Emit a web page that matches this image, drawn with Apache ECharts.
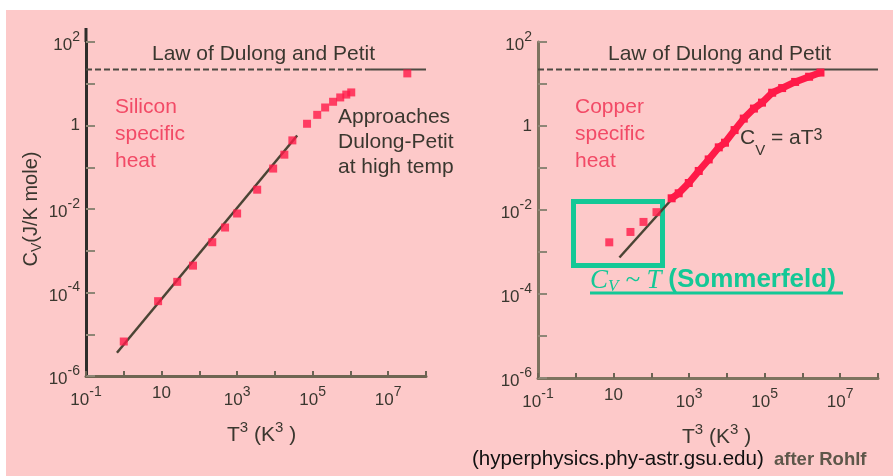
<!DOCTYPE html>
<html>
<head>
<meta charset="utf-8">
<script src="https://cdn.jsdelivr.net/npm/echarts@6/dist/echarts.min.js"></script>
<style>
  html, body { margin: 0; padding: 0; background: #fff; }
  #chart {
    width: 893px; height: 476px;
    background: #fdc9c9;
    box-shadow: inset 6px 10px 0 0 #fff;
  }
</style>
</head>
<body>
<div id="chart"></div>
<script>
// tick labels (exponents of 10 that get a label)
var xTickExps = [-1, 1, 3, 5, 7];
var yTickExps = [2, 0, -2, -4, -6];

// Law of Dulong and Petit, 3R in J/K mole
var dulongCv = 22;
var dulongDashEnd = [3.3e6, 5.4e5];   // where the dashed part turns solid (left, right)

// silicon measurements: T^3 (K^3) and Cv (J/K mole)
var siliconT3 = [1.0, 8.1, 26, 68, 220, 480, 1000, 3400, 9000, 17800, 29000, 71000, 132000, 214000, 347000, 537000, 776000, 1.05e6, 3.2e7];
var siliconCv = [6.7e-6, 6.2e-5, 1.8e-4, 4.4e-4, 1.6e-3, 3.6e-3, 7.8e-3, 0.029, 0.093, 0.20, 0.44, 1.1, 1.8, 2.7, 3.7, 4.7, 5.5, 6.2, 17.7];
// silicon aT^3 fit (end points)
var siliconFitT3 = [0.66, 38900];
var siliconFitCv = [3.6e-6, 0.575];

// copper: isolated low-temperature points
var copperLowT3 = [7.7, 28, 62, 137];
var copperLowCv = [1.7e-3, 3.0e-3, 5.2e-3, 8.9e-3];
// copper: dense band of points
var copperT3 = [345, 530, 980, 1800, 3300, 6100, 8900, 16000, 28000, 52000, 85000, 158000, 290000, 640000, 1.5e6, 3.0e6];
var copperCv = [0.019, 0.025, 0.044, 0.085, 0.16, 0.31, 0.40, 0.80, 1.5, 2.6, 3.6, 6.2, 8.0, 11.2, 14.9, 18.7];
// copper aT^3 fit (end points)
var copperFitT3 = [14.3, 34000];
var copperFitCv = [7.4e-4, 1.78];

var FONT = 'Liberation Sans, Arial, sans-serif';
var RED = '#ff1a48';
var TEAL = '#14c896';
var INK = '#3a372f';

function zip(a, b) { return a.map(function (v, i) { return [v, b[i]]; }); }

function powLabel(e) {
    if (e === 0) return '1';
    if (e === 1) return '10';
    return '{b|10}{s|' + e + '}';
}

var tickRich = {
    b: { fontSize: 17, lineHeight: 24, verticalAlign: 'bottom', color: INK, fontFamily: FONT },
    s: { fontSize: 14, lineHeight: 14, verticalAlign: 'top', color: INK, fontFamily: FONT }
};

function makeX(idx, color) {
    return {
        type: 'log', logBase: 10, gridIndex: idx,
        min: 0.1, max: 1e8, interval: 1,
        axisLine: { lineStyle: { color: color, width: 3 } },
        axisTick: { inside: true, length: 5, lineStyle: { color: '#6c6454', width: 2 } },
        splitLine: { show: false },
        axisLabel: {
            margin: 9, color: INK, fontSize: 17, fontFamily: FONT, rich: tickRich,
            formatter: function (v) {
                var e = Math.round(Math.log10(v));
                return xTickExps.indexOf(e) >= 0 ? powLabel(e) : '';
            }
        }
    };
}

function makeY(idx, color, name) {
    return {
        type: 'log', logBase: 10, gridIndex: idx,
        min: 1e-6, max: 100, interval: 1,
        name: name || '',
        nameLocation: 'middle', nameGap: 42,
        nameTextStyle: {
            rich: {
                c: { fontSize: 20, color: INK, fontFamily: FONT },
                v: { fontSize: 14, color: INK, fontFamily: FONT, verticalAlign: 'bottom', lineHeight: 26 }
            }
        },
        axisLine: { lineStyle: { color: color, width: 3 } },
        axisTick: { inside: true, length: 9, lineStyle: { color: '#8e8676', width: 2 } },
        splitLine: { show: false },
        axisLabel: {
            margin: 6, color: INK, fontSize: 17, fontFamily: FONT, rich: tickRich,
            formatter: function (v) {
                var e = Math.round(Math.log10(v));
                return yTickExps.indexOf(e) >= 0 ? powLabel(e) : '';
            }
        }
    };
}

function dulongSeries(idx) {
    return [{
        type: 'line', xAxisIndex: idx, yAxisIndex: idx, symbol: 'none', silent: true,
        data: [[0.1, dulongCv], [dulongDashEnd[idx], dulongCv]],
        lineStyle: { color: '#4d4a42', width: 2, type: [6, 3] }
    }, {
        type: 'line', xAxisIndex: idx, yAxisIndex: idx, symbol: 'none', silent: true,
        data: [[dulongDashEnd[idx], dulongCv], [1e8, dulongCv]],
        lineStyle: { color: '#4d4a42', width: 2 }
    }];
}

function fitSeries(idx, xs, ys) {
    return {
        type: 'line', xAxisIndex: idx, yAxisIndex: idx, symbol: 'none', silent: true, z: 3,
        data: zip(xs, ys),
        lineStyle: { color: '#4a4434', width: 2.5 }
    };
}

function pointSeries(idx, xs, ys) {
    return {
        type: 'scatter', xAxisIndex: idx, yAxisIndex: idx, z: 4,
        symbol: 'rect', symbolSize: 8,
        data: zip(xs, ys),
        itemStyle: { color: RED }
    };
}

var labelStyle = { fontFamily: FONT, fontSize: 21, fill: INK };
var axisTitleRich = {
    t: { fontFamily: FONT, fontSize: 21, fill: INK, verticalAlign: 'bottom', lineHeight: 26 },
    s: { fontFamily: FONT, fontSize: 15, fill: INK, verticalAlign: 'top', lineHeight: 15 }
};

var chart = echarts.init(document.getElementById('chart'));
chart.setOption({
    animation: false,
    textStyle: { fontFamily: FONT },
    grid: [
        { left: 86, top: 42, width: 340, height: 334 },
        { left: 538, top: 42, width: 340, height: 336 }
    ],
    xAxis: [makeX(0, '#6f6552'), makeX(1, '#7d735f')],
    yAxis: [makeY(0, '#2e2d2a', '{c|C}{v|V}{c|(J/K mole)}'), makeY(1, '#7d735f')],
    series: [].concat(
        dulongSeries(0),
        dulongSeries(1),
        [
            fitSeries(0, siliconFitT3, siliconFitCv),
            pointSeries(0, siliconT3, siliconCv),
            fitSeries(1, copperFitT3, copperFitCv),
            pointSeries(1, copperLowT3, copperLowCv),
            {
                type: 'line', xAxisIndex: 1, yAxisIndex: 1, z: 4,
                symbol: 'rect', symbolSize: 8,
                data: zip(copperT3, copperCv),
                lineStyle: { color: RED, width: 7 },
                itemStyle: { color: RED }
            }
        ]
    ),
    graphic: [
        { type: 'line', shape: { x1: 86, y1: 28, x2: 86, y2: 42 }, style: { stroke: '#2e2d2a', lineWidth: 3 } },
        { type: 'text', left: 152, top: 44, style: Object.assign({ text: 'Law of Dulong and Petit' }, labelStyle) },
        { type: 'text', left: 608, top: 44, style: Object.assign({ text: 'Law of Dulong and Petit' }, labelStyle) },
        { type: 'text', left: 115, top: 94, style: { text: 'Silicon\nspecific\nheat', fontFamily: FONT, fontSize: 21, lineHeight: 27, fill: '#f24a66' } },
        { type: 'text', left: 338, top: 105, style: { text: 'Approaches\nDulong-Petit\nat high temp', fontFamily: FONT, fontSize: 21, lineHeight: 25, fill: INK } },
        { type: 'text', left: 575, top: 94, style: { text: 'Copper\nspecific\nheat', fontFamily: FONT, fontSize: 21, lineHeight: 27, fill: '#f24a66' } },
        { type: 'text', left: 740, top: 128, style: {
            text: '{c|C}{v|V}{c| = aT}{s|3}',
            rich: {
                c: { fontFamily: FONT, fontSize: 21, fill: INK, verticalAlign: 'top', lineHeight: 30 },
                v: { fontFamily: FONT, fontSize: 15, fill: INK, verticalAlign: 'bottom', lineHeight: 15 },
                s: { fontFamily: FONT, fontSize: 16, fill: INK, verticalAlign: 'top', lineHeight: 16 }
            }
        } },
        { type: 'rect', shape: { x: 573.5, y: 201.5, width: 89, height: 64 }, style: { fill: 'none', stroke: TEAL, lineWidth: 5 } },
        { type: 'text', left: 590, top: 267, style: {
            text: '{i|C}{v|V}{i| ~ T }{b|(Sommerfeld)}',
            rich: {
                i: { fontFamily: 'Liberation Serif, serif', fontStyle: 'italic', fontSize: 27, fill: TEAL, verticalAlign: 'top', lineHeight: 28 },
                v: { fontFamily: 'Liberation Serif, serif', fontStyle: 'italic', fontSize: 17, fill: TEAL, verticalAlign: 'bottom', lineHeight: 17 },
                b: { fontFamily: FONT, fontWeight: 'bold', fontSize: 26, fill: TEAL, verticalAlign: 'top', lineHeight: 28 }
            }
        } },
        { type: 'line', shape: { x1: 590, y1: 293, x2: 843, y2: 293 }, style: { stroke: TEAL, lineWidth: 3 } },
        { type: 'text', left: 227, top: 420, style: { text: '{t|T}{s|3}{t| (K}{s|3}{t| )}', rich: axisTitleRich } },
        { type: 'text', left: 682, top: 422, style: { text: '{t|T}{s|3}{t| (K}{s|3}{t| )}', rich: axisTitleRich } },
        { type: 'text', left: 472, top: 449, style: { text: '(hyperphysics.phy-astr.gsu.edu)', fontFamily: FONT, fontSize: 20.6, fill: '#111' } },
        { type: 'text', left: 774, top: 450, style: { text: 'after Rohlf', fontFamily: FONT, fontSize: 18.5, fontWeight: 'bold', fill: '#5e574a' } }
    ]
});
</script>
</body>
</html>
